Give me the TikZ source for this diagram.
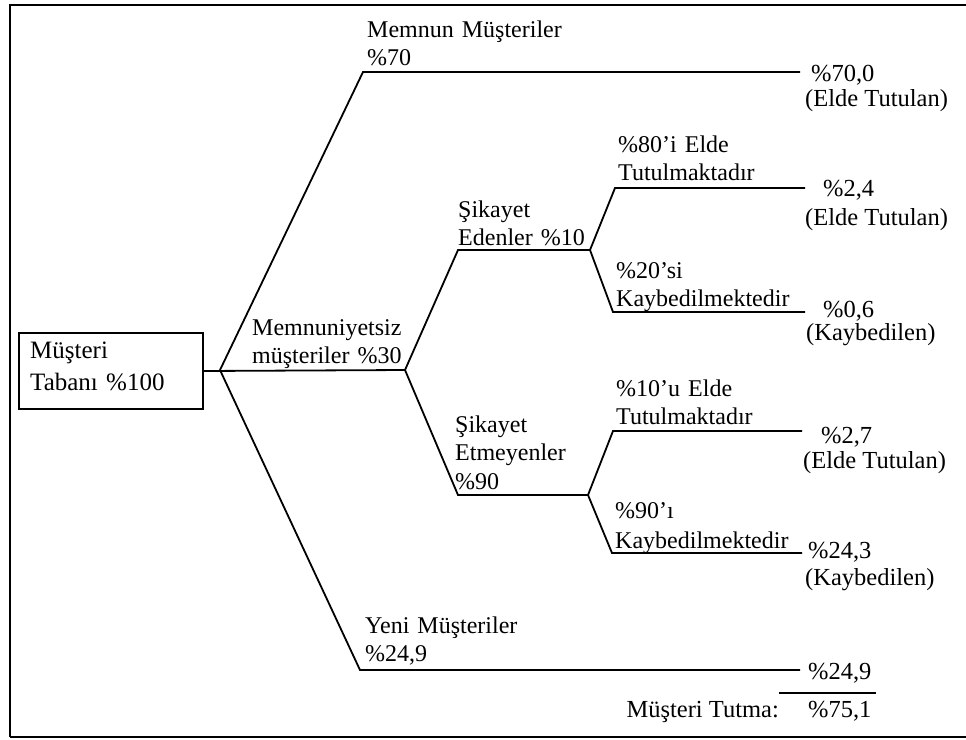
\documentclass[tikz,border=0pt]{standalone}
\usepackage{fontspec}
\setmainfont{Liberation Serif}
\begin{document}
\begin{tikzpicture}[x=1pt,y=-1pt,
  frame/.style={line width=2.6pt},
  branch/.style={line width=1.8pt},
  lbl/.style={anchor=base west, inner sep=0pt, text width=260pt, align=left,
              font=\fontsize{24}{28.5}\selectfont},
  val/.style={anchor=base west, inner sep=0pt, font=\fontsize{24.5}{28}\selectfont}]
\useasboundingbox (0,0) rectangle (966,739);

% outer frame
\draw[frame] (10,737) -- (10,5) -- (966,5);
\draw[frame] (10,737) -- (966,737);

% customer base box
\node[draw, line width=1.6pt, minimum width=184pt, minimum height=76pt,
      inner sep=0pt, anchor=west] (root) at (18,371) {};
\node[lbl, font=\fontsize{25}{32}\selectfont] (roottxt) at (30,358) {Müşteri\\Tabanı \%100};

% branching points
\coordinate (j0) at (220,370);
\coordinate (j1) at (405,370);
\coordinate (a1) at (363,72);  \coordinate (a1e) at (800,72);
\coordinate (a3) at (360,670); \coordinate (a3e) at (800,670);
\coordinate (b1) at (458,250); \coordinate (j2) at (590,250);
\coordinate (b2) at (458,495); \coordinate (j3) at (588,495);
\coordinate (c1) at (615,188); \coordinate (c1e) at (805,188);
\coordinate (c2) at (613,312); \coordinate (c2e) at (805,312);
\coordinate (d1) at (613,431); \coordinate (d1e) at (802,431);
\coordinate (d2) at (612,553); \coordinate (d2e) at (802,553);
\coordinate (s1) at (779,693); \coordinate (s2) at (876,693);

% tree
\draw[branch] (root.east) -- (j1);
\draw[branch] (j0) -- (a1) -- (a1e);
\draw[branch] (j0) -- (a3) -- (a3e);
\draw[branch] (j1) -- (b1) -- (j2);
\draw[branch] (j1) -- (b2) -- (j3);
\draw[branch] (j2) -- (c1) -- (c1e);
\draw[branch] (j2) -- (c2) -- (c2e);
\draw[branch] (j3) -- (d1) -- (d1e);
\draw[branch] (j3) -- (d2) -- (d2e);
\draw[branch] (s1) -- (s2);

% branch labels
\node[lbl] (n1) at (367,37)  {Memnun Müşteriler\\\%70};
\node[lbl] (n2) at (252,335) {Memnuniyetsiz\\müşteriler \%30};
\node[lbl] (n3) at (458,217) {Şikayet\\Edenler \%10};
\node[lbl] (n4) at (455,432) {Şikayet\\Etmeyenler\\\%90};
\node[lbl] (n5) at (618,152) {\%80’i Elde\\Tutulmaktadır};
\node[lbl] (n6) at (616,278) {\%20’si\\Kaybedilmektedir};
\node[lbl] (n7) at (616,396) {\%10’u Elde\\Tutulmaktadır};
\node[lbl, font=\fontsize{24}{30.5}\selectfont] (n8) at (615,518) {\%90’ı\\Kaybedilmektedir};
\node[lbl] (n9) at (365,633) {Yeni Müşteriler\\\%24,9};

% outcomes
\node[val] (v1)  at (811,81)  {\%70,0};
\node[val] (v1c) at (805,106) {(Elde Tutulan)};
\node[val] (v2)  at (823,196) {\%2,4};
\node[val] (v2c) at (805,225) {(Elde Tutulan)};
\node[val] (v3)  at (823,317) {\%0,6};
\node[val] (v3c) at (806,340) {(Kaybedilen)};
\node[val] (v4)  at (821,443) {\%2,7};
\node[val] (v4c) at (803,468) {(Elde Tutulan)};
\node[val] (v5)  at (808,558) {\%24,3};
\node[val] (v5c) at (805,585) {(Kaybedilen)};
\node[val] (v6)  at (808,679) {\%24,9};
\node[val, anchor=base east] (tt) at (779,717) {Müşteri Tutma:};
\node[val] (v7)  at (808,717) {\%75,1};
\end{tikzpicture}
\end{document}
